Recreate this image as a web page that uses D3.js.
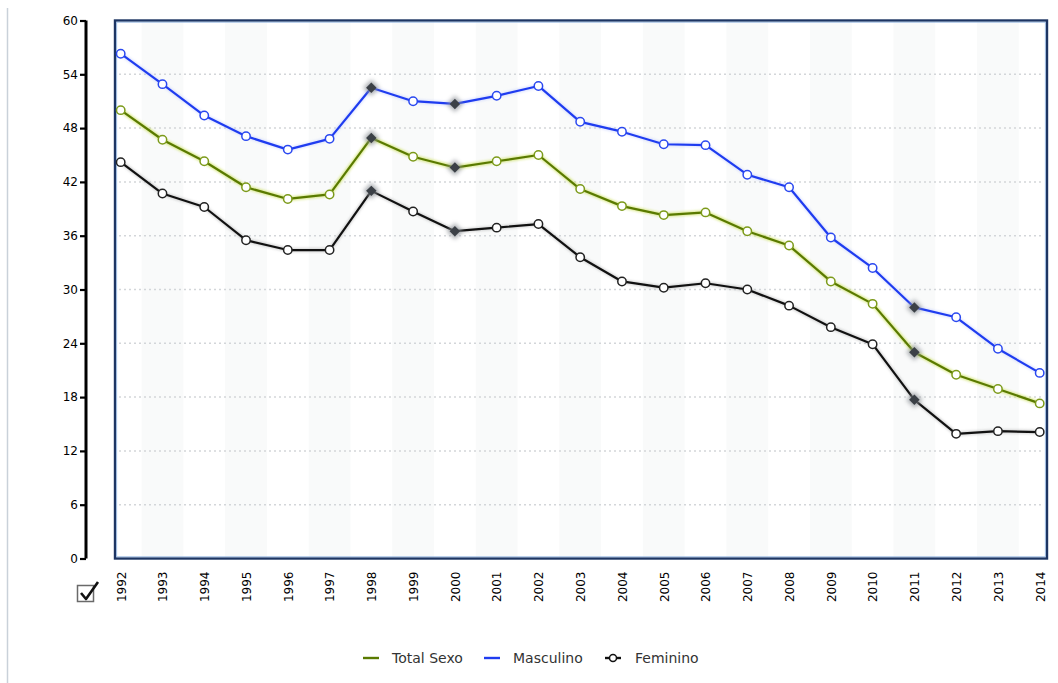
<!DOCTYPE html>
<html>
<head>
<meta charset="utf-8">
<script src="https://cdn.jsdelivr.net/npm/d3@7"></script>
<style>
  html, body { margin: 0; padding: 0; background: #fff; }
  svg { display: block; }
</style>
</head>
<body>
<svg id="chart" width="1058" height="683"></svg>
<script>
// Years on the category axis
const years = [1992, 1993, 1994, 1995, 1996, 1997, 1998, 1999, 2000, 2001, 2002,
               2003, 2004, 2005, 2006, 2007, 2008, 2009, 2010, 2011, 2012, 2013, 2014];

// Series values, one per year
const totalSexo = [50.0, 46.7, 44.3, 41.4, 40.1, 40.6, 46.9, 44.8, 43.6, 44.3, 45.0,
                   41.2, 39.3, 38.3, 38.6, 36.5, 34.9, 30.9, 28.4, 23.0, 20.5, 18.9, 17.3];
const masculino = [56.3, 52.9, 49.4, 47.1, 45.6, 46.8, 52.5, 51.0, 50.7, 51.6, 52.7,
                   48.7, 47.6, 46.2, 46.1, 42.8, 41.4, 35.8, 32.4, 28.0, 26.9, 23.4, 20.7];
const feminino  = [44.2, 40.7, 39.2, 35.5, 34.4, 34.4, 41.0, 38.7, 36.5, 36.9, 37.3,
                   33.6, 30.9, 30.2, 30.7, 30.0, 28.2, 25.8, 23.9, 17.7, 13.9, 14.2, 14.1];

// Years whose points are drawn as highlighted diamonds
const highlightYears = [1998, 2000, 2011];

// Value axis ticks
const yTicks = [0, 6, 12, 18, 24, 30, 36, 42, 48, 54, 60];

const seriesNames = ["Total Sexo", "Masculino", "Feminino"];

const series = [
  { name: seriesNames[0], values: totalSexo, color: "#5a7a00", halo: "#c2da40", marker: "#7c9a1a", haloOp: 0.55 },
  { name: seriesNames[1], values: masculino, color: "#1f3cf0", halo: "#a9b8ff", marker: "#2a48f0", haloOp: 0.35 },
  { name: seriesNames[2], values: feminino,  color: "#111111", halo: "#a0a0a0", marker: "#222222", haloOp: 0.4 }
];

const svg = d3.select("#chart");

const frame = { left: 115, right: 1047, top: 20.5, bottom: 558.5 };
const x = d3.scalePoint().domain(years).range([120.7, 1039.7]);
const y = d3.scaleLinear().domain([0, 60]).range([frame.bottom, frame.top]);

const defs = svg.append("defs");
defs.append("filter").attr("id", "glow")
  .attr("x", "-60%").attr("y", "-60%").attr("width", "220%").attr("height", "220%")
  .append("feGaussianBlur").attr("stdDeviation", 2);
defs.append("filter").attr("id", "soft")
  .attr("x", "-10%").attr("y", "-10%").attr("width", "120%").attr("height", "120%")
  .append("feGaussianBlur").attr("stdDeviation", 1.2);

// Page edge line on the left
svg.append("line")
  .attr("x1", 7.5).attr("x2", 7.5).attr("y1", 8).attr("y2", 683)
  .attr("stroke", "#c9d1d9").attr("stroke-width", 1.5);

// Faint alternating column bands
const step = x.step();
svg.append("g").selectAll("rect")
  .data(years.filter((d, i) => i % 2 === 1))
  .join("rect")
  .attr("x", d => Math.max(frame.left, x(d) - step / 2))
  .attr("width", step)
  .attr("y", frame.top)
  .attr("height", frame.bottom - frame.top)
  .attr("fill", "#f9fafa");

// Dotted horizontal gridlines
svg.append("g").selectAll("line")
  .data(yTicks.filter(t => t > 0 && t < 60))
  .join("line")
  .attr("x1", frame.left + 4).attr("x2", frame.right - 4)
  .attr("y1", d => y(d)).attr("y2", d => y(d))
  .attr("stroke", "#d3d6d9").attr("stroke-width", 1.5)
  .attr("stroke-dasharray", "2,3");

// Plot frame
svg.append("rect")
  .attr("x", frame.left).attr("y", frame.top)
  .attr("width", frame.right - frame.left).attr("height", frame.bottom - frame.top)
  .attr("fill", "none").attr("stroke", "#1d3563").attr("stroke-width", 2.4);
svg.append("rect")
  .attr("x", frame.left + 1.7).attr("y", frame.top + 1.7)
  .attr("width", frame.right - frame.left - 3.4).attr("height", frame.bottom - frame.top - 3.4)
  .attr("fill", "none").attr("stroke", "#8fb3e0").attr("stroke-width", 0.8);

// Value axis
const yAxis = d3.axisLeft(y).tickValues(yTicks).tickSize(6).tickPadding(2).tickFormat(d3.format("d"));
const yg = svg.append("g").attr("transform", "translate(86,0)").call(yAxis);
yg.select(".domain").attr("stroke", "#000").attr("stroke-width", 3)
  .attr("d", `M0,${y(60)}V${y(0)}`);
yg.selectAll(".tick line").attr("stroke", "#000").attr("stroke-width", 2.2);
yg.selectAll(".tick text")
  .attr("font-family", "DejaVu Sans, Verdana, sans-serif")
  .attr("font-size", 12).attr("fill", "#000");

// Year labels, rotated
const xAxis = d3.axisBottom(x).tickSize(0).tickPadding(0);
const xg = svg.append("g").attr("transform", `translate(0,${frame.bottom})`).call(xAxis);
xg.select(".domain").remove();
xg.selectAll(".tick text")
  .attr("font-family", "DejaVu Sans, Verdana, sans-serif")
  .attr("font-size", 12).attr("fill", "#000")
  .attr("text-anchor", "end")
  .attr("transform", "translate(0,13) rotate(-90)")
  .attr("x", 0).attr("y", 0).attr("dy", "0.36em");

// Checkbox below the value axis
const cb = svg.append("g");
cb.append("rect").attr("x", 77.5).attr("y", 585.5).attr("width", 16).attr("height", 16)
  .attr("fill", "#fff").attr("stroke", "#6a6a6a").attr("stroke-width", 1.5);
cb.append("path").attr("d", "M81,593 L86,599 L98,582")
  .attr("fill", "none").attr("stroke", "#111").attr("stroke-width", 2.6)
  .attr("stroke-linejoin", "round");

// Lines
const line = d3.line().x((d, i) => x(years[i])).y(d => y(d));

const lg = svg.append("g");
series.forEach(s => {
  lg.append("path").datum(s.values).attr("d", line)
    .attr("fill", "none").attr("stroke", s.halo).attr("stroke-width", 4.5)
    .attr("stroke-opacity", s.haloOp).attr("filter", "url(#soft)");
  lg.append("path").datum(s.values).attr("d", line)
    .attr("fill", "none").attr("stroke", s.color).attr("stroke-width", 2.2)
    .attr("stroke-linejoin", "round");
});

// Point markers: circles, with diamonds on highlighted years
const diamond = d3.symbol().type(d3.symbolDiamond2).size(70);
series.forEach(s => {
  const pts = s.values.map((v, i) => ({ year: years[i], v }));
  const g = svg.append("g");
  g.selectAll("circle")
    .data(pts.filter(p => !highlightYears.includes(p.year)))
    .join("circle")
    .attr("cx", p => x(p.year)).attr("cy", p => y(p.v)).attr("r", 4.2)
    .attr("fill", "#fff").attr("stroke", s.marker).attr("stroke-width", 1.5);
  const hp = pts.filter(p => highlightYears.includes(p.year));
  g.selectAll("path.halo").data(hp).join("path").attr("class", "halo")
    .attr("d", d3.symbol().type(d3.symbolDiamond2).size(170))
    .attr("transform", p => `translate(${x(p.year)},${y(p.v)})`)
    .attr("fill", "#8a8f94").attr("opacity", 0.7).attr("filter", "url(#glow)");
  g.selectAll("path.dia").data(hp).join("path").attr("class", "dia")
    .attr("d", diamond)
    .attr("transform", p => `translate(${x(p.year)},${y(p.v)})`)
    .attr("fill", "#3b4046");
});

// Legend
const legendX = [363, 484, 605];
const leg = svg.append("g").attr("font-family", "DejaVu Sans, Verdana, sans-serif")
  .attr("font-size", 14).attr("fill", "#333");
series.forEach((s, i) => {
  const gx = legendX[i];
  const g = leg.append("g").attr("transform", `translate(${gx},658)`);
  g.append("line").attr("x1", 0).attr("x2", 16).attr("y1", 0).attr("y2", 0)
    .attr("stroke", s.color).attr("stroke-width", 2.4);
  if (i === 2) {
    g.append("circle").attr("cx", 8).attr("cy", 0).attr("r", 3.5)
      .attr("fill", "#fff").attr("stroke", s.color).attr("stroke-width", 1.5);
  }
  g.append("text").attr("x", i === 2 ? 30 : 29).attr("y", 0).attr("dy", "0.35em").text(s.name);
});
</script>
</body>
</html>
